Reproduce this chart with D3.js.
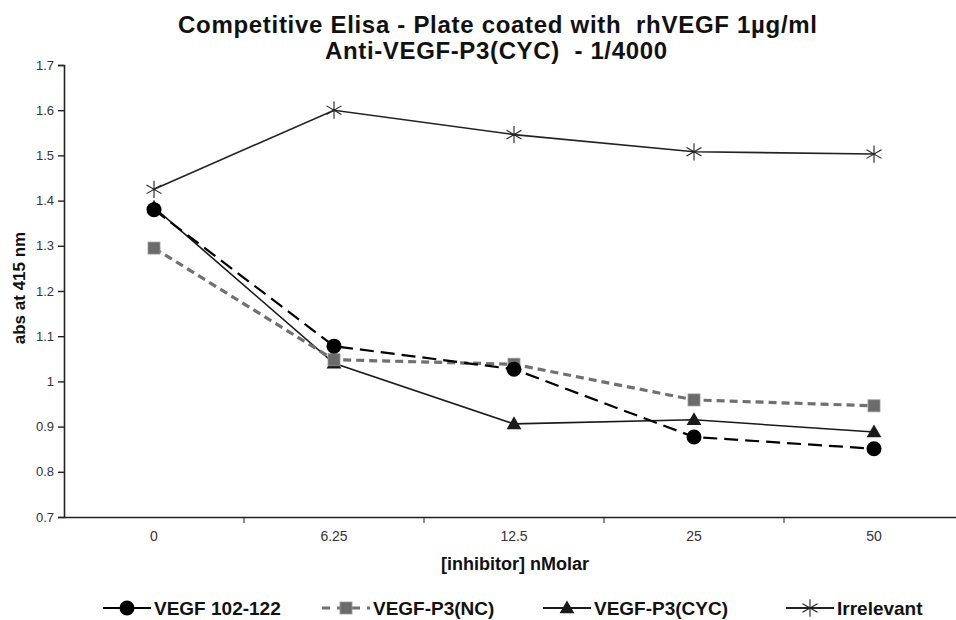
<!DOCTYPE html>
<html>
<head>
<meta charset="utf-8">
<script src="https://cdn.jsdelivr.net/npm/d3@7"></script>
<style>
  body { margin: 0; background: #fff; }
  svg { font-family: "Liberation Sans", Arial, sans-serif; display: block; }
</style>
</head>
<body>
<div id="chartContainer"></div>
<script>
// Data
const doses = ["0", "6.25", "12.5", "25", "50"];
const vegf102 = [1.38, 1.078, 1.027, 0.877, 0.851];
const vegfNC = [1.295, 1.048, 1.038, 0.959, 0.946];
const vegfCYC = [1.385, 1.04, 0.906, 0.915, 0.888];
const irrelevant = [1.425, 1.6, 1.546, 1.508, 1.503];
const yTicks = [0.7, 0.8, 0.9, 1, 1.1, 1.2, 1.3, 1.4, 1.5, 1.6, 1.7];

const series = [
    { name: "VEGF 102-122", values: vegf102, color: "#000", dash: "14,7", width: 2.2, marker: "circle" },
    { name: "VEGF-P3(NC)", values: vegfNC, color: "#707070", dash: "8,5", width: 3.2, marker: "square" },
    { name: "VEGF-P3(CYC)", values: vegfCYC, color: "#1a1a1a", dash: null, width: 1.6, marker: "triangle" },
    { name: "Irrelevant", values: irrelevant, color: "#222", dash: null, width: 1.6, marker: "star" }
];

const svgWidth = 956;
const svgHeight = 620;
const margin = { top: 65, right: -8, bottom: 103, left: 64 };
const chartWidth = svgWidth - margin.left - margin.right;
const chartHeight = svgHeight - margin.top - margin.bottom;

const svg = d3.select("#chartContainer")
    .append("svg")
    .attr("width", svgWidth)
    .attr("height", svgHeight);

const chart = svg.append("g")
    .attr("transform", `translate(${margin.left}, ${margin.top})`);

const xScale = d3.scaleBand()
    .domain(doses)
    .range([0, chartWidth]);

const yScale = d3.scaleLinear()
    .domain([0.7, 1.7])
    .range([chartHeight, 0]);

// axes
const yAxis = d3.axisLeft(yScale)
    .tickValues(yTicks)
    .tickFormat(d => d3.format("")(+d.toFixed(1)))
    .tickSize(6)
    .tickPadding(4);
const gy = chart.append("g").call(yAxis);

const xAxis = d3.axisBottom(xScale).tickSize(0).tickPadding(14);
const gx = chart.append("g")
    .attr("transform", `translate(0, ${chartHeight})`)
    .call(xAxis);

// category separator ticks on x axis
gx.selectAll(".sep")
    .data(doses.slice(1))
    .enter()
    .append("line")
    .attr("class", "sep")
    .attr("x1", d => xScale(d))
    .attr("x2", d => xScale(d))
    .attr("y1", 0)
    .attr("y2", 6)
    .attr("stroke", "#222");

[gx, gy].forEach(g => {
    g.select(".domain").attr("stroke", "#222").attr("stroke-width", 1.6);
    g.selectAll(".tick line").attr("stroke", "#222").attr("stroke-width", 1.4);
    g.selectAll("text").attr("fill", "#333").attr("font-size", 13)
        .attr("font-family", "'Liberation Sans', Arial, sans-serif");
});
gx.selectAll(".tick text").attr("font-size", 14);

const cx = d => xScale(d) + xScale.bandwidth() / 2;

// marker drawing
function drawMarker(g, type, x, y) {
    if (type === "circle") {
        g.append("circle").attr("cx", x).attr("cy", y).attr("r", 7.5).attr("fill", "#000");
    } else if (type === "square") {
        g.append("rect").attr("x", x - 6).attr("y", y - 6).attr("width", 12).attr("height", 12)
            .attr("fill", "#6b6b6b").attr("stroke", "#999").attr("stroke-width", 0.8);
    } else if (type === "triangle") {
        g.append("path").attr("d", d3.symbol(d3.symbolTriangle, 95)())
            .attr("transform", `translate(${x}, ${y + 1})`).attr("fill", "#1a1a1a");
    } else if (type === "star") {
        g.append("path").attr("d", d3.symbol(d3.symbolAsterisk, 210)())
            .attr("transform", `translate(${x}, ${y})`)
            .attr("fill", "none").attr("stroke", "#222").attr("stroke-width", 1.1);
    }
}

const line = d3.line()
    .x((d, i) => cx(doses[i]))
    .y(d => yScale(d));

// lines (draw bottom series order so black circles stay on top)
const drawOrder = [series[2], series[1], series[0], series[3]];
drawOrder.forEach(s => {
    chart.append("path")
        .datum(s.values)
        .attr("d", line)
        .attr("fill", "none")
        .attr("stroke", s.color)
        .attr("stroke-width", s.width)
        .attr("stroke-dasharray", s.dash);
});
drawOrder.forEach(s => {
    const mg = chart.append("g");
    s.values.forEach((v, i) => drawMarker(mg, s.marker, cx(doses[i]), yScale(v)));
});

// titles
svg.append("text")
    .attr("x", 178).attr("y", 33)
    .attr("font-size", 24).attr("font-weight", "bold")
    .attr("fill", "#111")
    .attr("textLength", 639).attr("lengthAdjust", "spacing")
    .style("white-space", "pre")
    .text("Competitive Elisa - Plate coated with  rhVEGF 1µg/ml");
svg.append("text")
    .attr("x", 325).attr("y", 59)
    .attr("font-size", 24).attr("font-weight", "bold")
    .attr("fill", "#111")
    .attr("textLength", 342).attr("lengthAdjust", "spacing")
    .style("white-space", "pre")
    .text("Anti-VEGF-P3(CYC)  - 1/4000");

svg.append("text")
    .attr("transform", `translate(25, 288) rotate(-90)`)
    .attr("text-anchor", "middle")
    .attr("font-size", 17).attr("font-weight", "bold")
    .attr("fill", "#111")
    .text("abs at 415 nm");

svg.append("text")
    .attr("x", 515).attr("y", 570)
    .attr("text-anchor", "middle")
    .attr("font-size", 18).attr("font-weight", "bold")
    .attr("fill", "#111")
    .text("[inhibitor] nMolar");

// legend
const legendX = [103, 322, 543, 786];
const legend = svg.append("g").attr("transform", "translate(0, 608)");
series.forEach((s, i) => {
    const lg = legend.append("g").attr("transform", `translate(${legendX[i]}, 0)`);
    lg.append("line")
        .attr("x1", 0).attr("x2", 48).attr("y1", 0).attr("y2", 0)
        .attr("stroke", s.color)
        .attr("stroke-width", s.marker === "square" ? 3 : 2.2)
        .attr("stroke-dasharray", s.marker === "square" ? "8,7" : null);
    drawMarker(lg, s.marker, 24, 0);
    lg.append("text")
        .attr("x", 51).attr("y", 7)
        .attr("font-size", 19).attr("font-weight", "bold")
        .attr("fill", "#111")
        .text(s.name);
});
</script>
</body>
</html>
